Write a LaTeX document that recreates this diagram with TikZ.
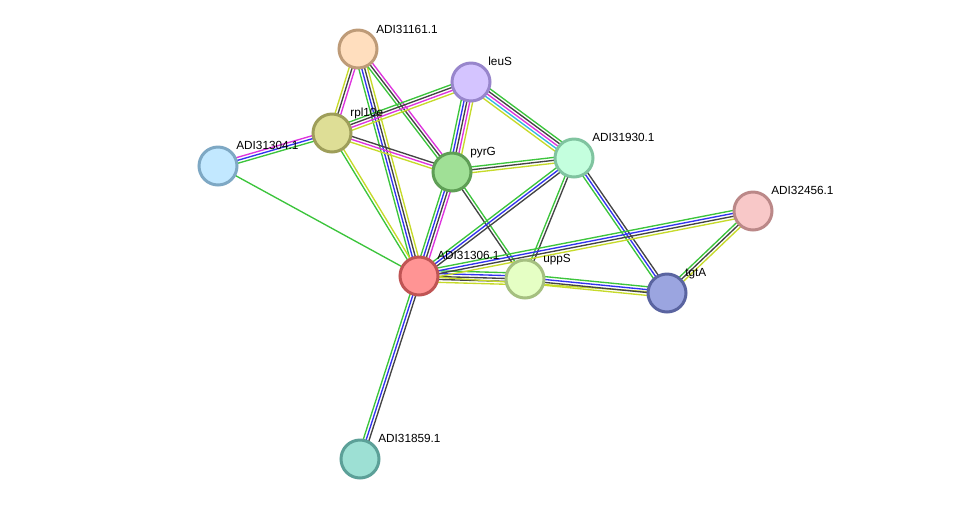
\documentclass[tikz,border=0pt]{standalone}
\usepackage{fontspec}
\setmainfont{Liberation Sans}
\usetikzlibrary{calc,backgrounds}

\definecolor{sgreen}{HTML}{3CC43C}
\definecolor{sblue}{HTML}{3333EE}
\definecolor{sblack}{HTML}{444444}
\definecolor{smag}{HTML}{DD33DD}
\definecolor{scyan}{HTML}{33B8E0}
\definecolor{syel}{HTML}{C6DA2A}

\tikzset{
  protein/.style={circle, minimum size=0.76cm, inner sep=0pt, line width=0.06cm},
  tag/.style={anchor=base west, inner sep=0pt, font=\fontsize{6.7}{8}\selectfont},
  linkline/.style={line width=0.027cm}
}

% parallel lines between two proteins, one per evidence colour
\newcommand{\link}[3]{%
  \foreach \col [count=\k] in {#3} {\xdef\nlines{\k}}%
  \foreach \col [count=\k] in {#3} {%
    \pgfmathsetlengthmacro{\offd}{(\k-(\nlines+1)/2)*0.058cm}%
    \draw[linkline, \col] ($(#1)!\offd!90:(#2)$) -- ($(#2)!\offd!-90:(#1)$);
  }%
}

\begin{document}
\begin{tikzpicture}[x=0.02cm, y=-0.02cm]
    \useasboundingbox (0,0) rectangle (975,505);

    \node[protein, fill={rgb,255:red,255;green,222;blue,190}, draw={rgb,255:red,190;green,155;blue,120}] at (358,49) (p1161) {};
    \node[protein, fill={rgb,255:red,212;green,196;blue,255}, draw={rgb,255:red,152;green,134;blue,204}] at (471,82) (leuS) {};
    \node[protein, fill={rgb,255:red,222;green,222;blue,150}, draw={rgb,255:red,158;green,158;blue,90}] at (332,133) (rpl) {};
    \node[protein, fill={rgb,255:red,194;green,232;blue,255}, draw={rgb,255:red,126;green,168;blue,196}] at (218,166) (p1304) {};
    \node[protein, fill={rgb,255:red,160;green,224;blue,150}, draw={rgb,255:red,94;green,158;blue,85}] at (452,172) (pyrG) {};
    \node[protein, fill={rgb,255:red,196;green,255;blue,222}, draw={rgb,255:red,128;green,196;blue,160}] at (574,158) (p1930) {};
    \node[protein, fill={rgb,255:red,248;green,200;blue,200}, draw={rgb,255:red,187;green,136;blue,136}] at (753,211) (p2456) {};
    \node[protein, fill={rgb,255:red,255;green,148;blue,148}, draw={rgb,255:red,192;green,84;blue,84}] at (419,276) (p1306) {};
    \node[protein, fill={rgb,255:red,229;green,255;blue,196}, draw={rgb,255:red,165;green,192;blue,128}] at (525,279) (uppS) {};
    \node[protein, fill={rgb,255:red,155;green,165;blue,224}, draw={rgb,255:red,90;green,100;blue,160}] at (667,293) (tgtA) {};
    \node[protein, fill={rgb,255:red,157;green,224;blue,212}, draw={rgb,255:red,92;green,160;blue,152}] at (360,459) (p1859) {};

    \node[tag] at ([shift={(18,-16)}]p1161.center) (t1161) {ADI31161.1};
    \node[tag] at ([shift={(17,-17)}]leuS.center) (tleuS) {leuS};
    \node[tag] at ([shift={(18,-17)}]rpl.center) (trpl) {rpl10e};
    \node[tag] at ([shift={(18,-17)}]p1304.center) (t1304) {ADI31304.1};
    \node[tag] at ([shift={(18,-17)}]pyrG.center) (tpyrG) {pyrG};
    \node[tag] at ([shift={(18,-17)}]p1930.center) (t1930) {ADI31930.1};
    \node[tag] at ([shift={(18,-17)}]p2456.center) (t2456) {ADI32456.1};
    \node[tag] at ([shift={(18,-17)}]p1306.center) (t1306) {ADI31306.1};
    \node[tag] at ([shift={(18,-17)}]uppS.center) (tuppS) {uppS};
    \node[tag] at ([shift={(18,-17)}]tgtA.center) (ttgtA) {tgtA};
    \node[tag] at ([shift={(18,-17)}]p1859.center) (t1859) {ADI31859.1};

    \begin{pgfonlayer}{background}
    \link{p1161}{rpl}{syel,sblack,smag}
    \link{p1161}{p1306}{sgreen,sblue,sblack,syel}
    \link{p1161}{pyrG}{sgreen,sblack,smag}
    \link{rpl}{leuS}{syel,smag,sblack,sgreen}
    \link{rpl}{p1304}{smag,sblue,sgreen}
    \link{rpl}{pyrG}{syel,smag,sblack}
    \link{rpl}{p1306}{sgreen,syel}
    \link{p1304}{p1306}{sgreen}
    \link{leuS}{pyrG}{sgreen,sblue,sblack,smag,syel}
    \link{leuS}{p1930}{syel,scyan,smag,sblack,sgreen}
    \link{pyrG}{p1930}{syel,sblack,sgreen}
    \link{pyrG}{p1306}{sgreen,sblue,sblack,smag}
    \link{pyrG}{uppS}{sblack,sgreen}
    \link{p1930}{p1306}{sgreen,sblue,sblack}
    \link{p1930}{uppS}{sgreen,sblack}
    \link{p1930}{tgtA}{sgreen,sblue,sblack}
    \link{p1306}{uppS}{syel,sblack,sblack,sblue,sgreen}
    \link{p1306}{tgtA}{syel}
    \link{uppS}{tgtA}{syel,sblack,sblue,sgreen}
    \link{p1306}{p2456}{syel,sblack,sblue,sgreen}
    \link{tgtA}{p2456}{syel,sblack,sgreen}
    \link{p1306}{p1859}{sgreen,sblue,sblack}
    \end{pgfonlayer}
\end{tikzpicture}
\end{document}
